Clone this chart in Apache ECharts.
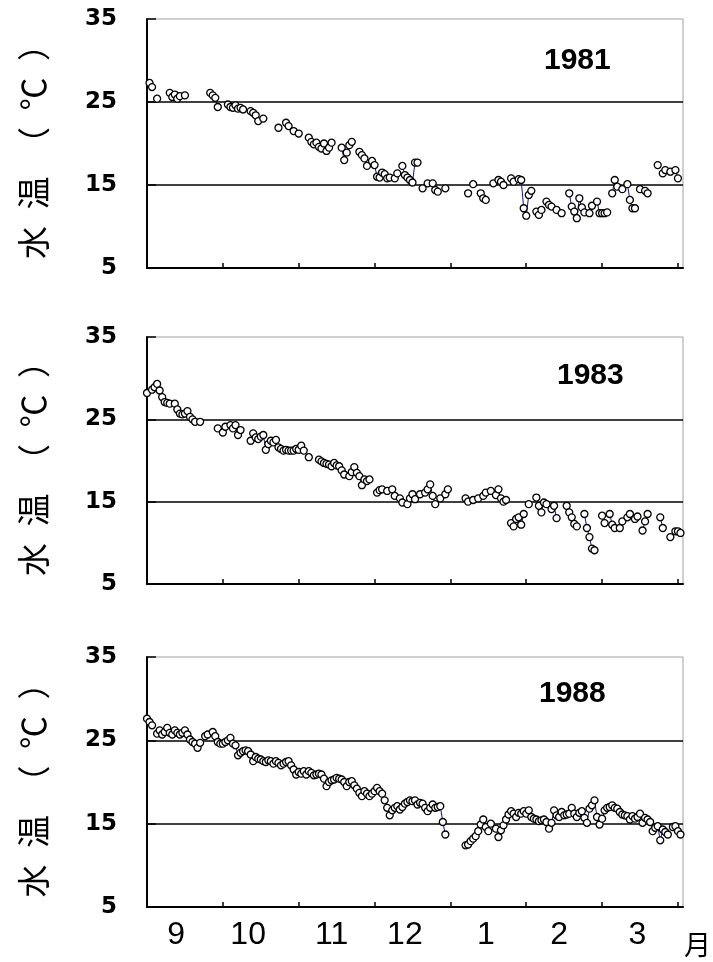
<!DOCTYPE html>
<html>
<head>
<meta charset="utf-8">
<script src="https://cdn.jsdelivr.net/npm/echarts@6/dist/echarts.min.js"></script>
<style>
  html, body { margin: 0; padding: 0; background: #fff; }
  #chart { width: 713px; height: 962px; }
</style>
</head>
<body>
<div id="chart"></div>
<script>
// Daily water temperature, September 1 (day 0) to March 31 (day 211), three seasons.
const years = ['1981', '1983', '1988'];
const monthNames = ['9', '10', '11', '12', '1', '2', '3'];
const monthLabelDays = [11.5, 40, 73, 102, 134, 163, 194];
const monthTickDays = [0, 30, 60, 90, 120, 150, 180, 210];
const yTicks = [5, 15, 25, 35];
const dayCount = 212;

const days1981 = [1,2,4,9,10,11,12,13,15,25,26,27,28,32,33,34,35,36,37,38,41,42,43,44,46,52,55,56,58,60,
  64,65,66,67,68,69,70,71,72,73,77,78,79,80,81,84,85,86,87,89,90,91,92,93,94,95,96,98,99,101,102,103,104,105,106,107,
  109,111,113,114,115,118,127,129,132,133,134,137,139,140,141,144,145,147,148,149,150,151,152,154,155,156,158,159,160,
  162,164,167,168,169,170,171,172,173,175,176,178,179,180,181,182,184,185,186,188,190,191,192,193,195,197,198,
  202,204,205,207,209,210];
const temp1981 = [27.3,26.8,25.4,26.1,25.6,25.9,25.4,25.7,25.8,26.1,25.8,25.5,24.4,24.7,24.4,24.3,24.6,24.2,24.3,24.1,
  23.9,23.7,23.4,22.7,23.0,21.9,22.5,22.1,21.5,21.2,
  20.7,20.2,19.9,20.1,19.6,19.4,20.0,19.1,19.5,20.1,19.5,18.0,18.9,19.8,20.2,19.0,18.6,18.2,17.3,17.9,17.4,16.0,15.9,16.5,16.3,15.8,15.9,15.8,16.4,17.3,16.2,15.9,15.6,15.3,17.7,17.7,
  14.6,15.2,15.2,14.4,14.2,14.6,14.0,15.1,14.0,13.4,13.2,15.2,15.6,15.4,15.0,15.8,15.4,15.7,15.6,12.2,11.3,13.8,14.3,11.8,11.4,12.0,13.0,12.6,12.4,
  12.0,11.6,14.0,12.4,11.8,11.0,13.4,12.3,11.7,11.6,12.5,13.0,11.6,11.6,11.6,11.7,14.0,15.6,14.8,14.5,15.1,13.2,12.2,12.2,14.5,14.3,14.0,
  17.4,16.4,16.8,16.6,16.8,15.8];

const days1983 = [0,2,3,4,5,6,7,8,9,11,12,13,14,15,16,17,18,19,21,28,30,31,33,34,35,36,37,
  41,42,43,44,45,46,47,48,49,50,51,52,53,54,55,56,57,58,59,60,61,62,64,68,69,70,71,72,73,74,75,76,77,78,80,81,82,83,84,85,86,87,88,
  91,92,93,95,97,98,100,101,103,104,105,106,108,110,111,112,113,114,116,118,119,126,127,129,131,133,134,136,138,139,140,141,142,
  144,145,146,147,148,149,151,154,155,156,157,158,160,161,162,166,167,168,169,170,173,174,175,176,177,
  180,181,183,184,185,187,188,190,191,193,194,196,197,198,203,204,207,209,210,211];
const temp1983 = [28.2,28.6,28.9,29.3,28.5,27.7,27.1,27.0,26.9,26.9,26.2,25.7,25.6,25.7,26.0,25.3,25.0,24.7,24.7,23.9,23.4,24.1,24.3,23.9,24.3,23.1,23.7,
  22.4,23.3,22.8,22.6,22.9,23.1,21.3,22.0,22.4,22.2,22.5,21.6,21.4,21.2,21.3,21.2,21.2,21.2,21.4,21.3,21.8,21.2,20.4,20.1,19.9,19.7,19.6,19.5,19.3,19.7,19.4,19.3,18.8,18.3,18.1,18.6,19.2,18.5,18.1,17.0,17.7,17.5,17.7,
  16.1,16.4,16.5,16.3,16.5,15.7,15.4,14.9,14.7,15.4,15.9,15.3,15.9,16.1,16.5,17.1,15.7,14.7,15.4,15.9,16.5,15.4,15.0,15.2,15.4,15.7,16.1,16.3,15.8,16.5,15.4,15.0,15.2,
  12.4,12.0,12.9,13.1,12.2,13.5,14.7,15.5,14.5,13.7,14.9,14.7,14.1,14.5,13.0,14.5,13.7,13.1,12.3,12.0,13.5,11.8,10.7,9.3,9.1,
  13.3,12.4,13.5,12.2,11.8,11.8,12.6,13.1,13.5,12.9,13.2,11.5,12.6,13.5,13.1,11.8,10.7,11.4,11.4,11.2];

const days1988 = [0,1,2,4,5,6,7,8,9,10,11,12,13,14,15,16,17,18,19,20,21,23,24,26,27,28,29,30,31,32,33,34,35,36,37,38,39,40,
  41,42,43,44,45,46,47,48,49,50,51,52,53,54,55,56,57,58,59,60,61,62,63,64,65,66,67,68,69,70,71,72,73,74,75,76,77,78,79,80,
  81,82,83,84,85,86,87,88,89,90,91,92,93,94,95,96,97,98,99,100,101,102,103,104,105,106,107,108,109,110,111,112,113,114,115,116,117,118,
  126,127,128,129,130,131,132,133,134,135,136,138,139,140,141,142,143,144,145,146,147,148,149,150,151,152,153,154,155,156,157,158,159,160,
  161,162,163,164,165,166,167,168,169,170,171,172,173,174,175,176,177,178,179,180,181,182,183,184,185,186,187,188,189,190,
  191,192,193,194,195,196,197,198,199,200,201,202,203,204,205,206,208,209,210,211];
const temp1988 = [27.6,27.2,26.8,25.8,26.2,25.7,26.0,26.5,25.9,25.7,26.2,25.9,25.7,25.9,26.2,25.7,25.1,24.8,24.6,24.1,24.7,25.5,25.7,26.0,25.5,24.8,24.6,24.6,24.8,25.0,25.3,24.6,24.4,23.2,23.5,23.7,23.8,23.7,
  23.3,22.5,23.0,22.8,22.7,22.5,22.4,22.6,22.5,22.2,22.5,22.3,22.0,22.2,22.4,22.5,22.0,21.5,20.9,21.2,21.0,21.3,20.9,21.3,21.1,20.8,20.9,21.0,20.9,20.4,19.5,20.0,20.2,20.3,20.5,20.4,20.3,20.0,19.5,20.0,
  20.1,19.6,19.2,18.7,18.3,18.9,18.6,18.3,18.6,18.9,19.3,18.9,18.6,17.8,16.9,16.0,16.6,16.9,17.1,16.7,17.0,17.4,17.6,17.8,17.7,17.8,17.3,17.5,17.4,16.9,16.5,16.9,17.3,16.9,17.0,17.1,15.2,13.7,
  12.4,12.5,12.9,13.2,13.5,14.1,14.9,15.5,14.6,14.1,15.0,14.4,13.4,14.2,14.8,15.5,16.1,16.5,16.2,15.8,16.3,16.2,16.5,16.2,16.6,15.8,15.6,15.5,15.3,15.4,15.5,15.2,14.4,15.1,
  16.6,16.0,15.8,16.4,16.0,16.1,16.2,16.9,16.2,15.8,16.3,16.5,15.7,15.1,16.8,17.2,17.8,15.8,14.9,15.6,16.6,16.9,17.0,17.2,16.9,16.8,16.4,16.1,16.0,15.9,
  15.5,15.9,15.6,15.8,16.2,15.1,15.7,15.5,15.2,14.1,14.5,14.7,13.0,14.3,14.0,13.7,14.6,14.7,14.1,13.7];

const seasonDays = [days1981, days1983, days1988];
const seasonTemps = [temp1981, temp1983, temp1988];

// Expand to one slot per day so missing days break the line.
function dailySeries(days, temps) {
  const out = [];
  for (let d = 0; d < dayCount; d++) out.push([d, '-']);
  days.forEach((d, i) => { out[d] = [d, temps[i]]; });
  return out;
}

const panelTops = [19, 337, 657];
const panelHeights = [249, 247, 250];
const yearLabelPos = [[544, 46], [557, 361], [539, 679]];

const grids = [], xAxes = [], yAxes = [], series = [], titles = [];
panelTops.forEach((top, i) => {
  const isLast = i === panelTops.length - 1;
  grids.push({
    left: 147, top: top, width: 536, height: panelHeights[i],
    show: true, borderColor: '#a0a0a0', borderWidth: 1, backgroundColor: '#fff'
  });
  xAxes.push({
    type: 'value', gridIndex: i, min: 0, max: dayCount, interval: 30,
    axisLine: { show: true, onZero: false, lineStyle: { color: '#000', width: 2 } },
    axisTick: { show: true, inside: true, length: 5, customValues: monthTickDays,
      lineStyle: { color: '#000', width: 1.5 } },
    axisLabel: {
      show: isLast, customValues: monthLabelDays, margin: 12,
      formatter: (v) => monthNames[monthLabelDays.indexOf(v)] || '',
      fontFamily: 'Liberation Sans', fontSize: 32, color: '#000'
    },
    name: isLast ? '月' : '', nameLocation: 'end', nameGap: 1,
    nameTextStyle: { fontFamily: 'Noto Sans CJK JP', fontSize: 27, color: '#000',
      verticalAlign: 'top', align: 'left', padding: [24, 0, 0, 0] },
    splitLine: { show: false }
  });
  yAxes.push({
    type: 'value', gridIndex: i, min: yTicks[0], max: yTicks[yTicks.length - 1], interval: 10,
    axisLine: { show: true, lineStyle: { color: '#000', width: 2 } },
    axisTick: { show: true, inside: true, length: 9, lineStyle: { color: '#000', width: 1.5 } },
    axisLabel: { fontFamily: 'DejaVu Sans', fontWeight: 'bold', fontSize: 23, color: '#000', margin: 30 },
    splitLine: { show: true, showMinLine: false, showMaxLine: false,
      lineStyle: { color: '#000', width: 1.5 } },
    name: '水\u2002温\u2002（\u2002℃\u2002）', nameLocation: 'middle', nameGap: 97,
    nameTextStyle: { fontFamily: 'Noto Sans CJK JP', fontSize: 33, color: '#000' }
  });
  series.push({
    type: 'line', xAxisIndex: i, yAxisIndex: i,
    data: dailySeries(seasonDays[i], seasonTemps[i]),
    connectNulls: false, showAllSymbol: true,
    symbol: 'circle', symbolSize: 7,
    itemStyle: { color: '#fff', borderColor: '#000', borderWidth: 1.3 },
    lineStyle: { color: '#10109a', width: 1 },
    emphasis: { disabled: true }, z: 3
  });
  titles.push({
    text: years[i], left: yearLabelPos[i][0], top: yearLabelPos[i][1], padding: 0,
    textStyle: { fontFamily: 'Liberation Sans', fontWeight: 'bold', fontSize: 30, color: '#000' }
  });
});

const chart = echarts.init(document.getElementById('chart'), null, { renderer: 'canvas' });
chart.setOption({
  animation: false,
  backgroundColor: '#fff',
  title: titles,
  grid: grids,
  xAxis: xAxes,
  yAxis: yAxes,
  series: series
});
</script>
</body>
</html>
